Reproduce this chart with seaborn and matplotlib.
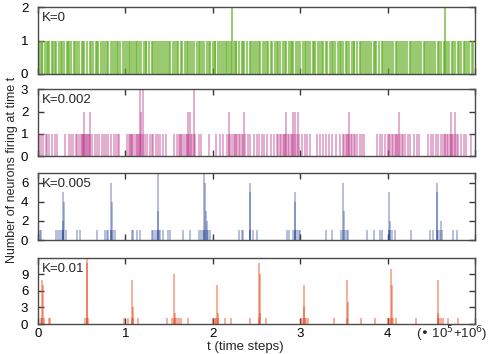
import matplotlib
matplotlib.use("Agg")
import matplotlib.pyplot as plt
import seaborn as sns

# ============================
# DATA (t in units of 1e5 steps, offset 1e6)
# every listed spike has count 1, peaks listed separately
# ============================
green_t = [0.02, 0.04, 0.05, 0.08, 0.10, 0.11, 0.13, 0.16, 0.17, 0.19, 0.21, 0.24, 0.26, 0.27,
           0.30, 0.33, 0.34, 0.36, 0.38, 0.41, 0.42, 0.45, 0.47, 0.50, 0.52, 0.53, 0.56, 0.60,
           0.61, 0.63, 0.66, 0.68, 0.69, 0.72, 0.74, 0.77, 0.79, 0.80, 0.83, 0.86, 0.88, 0.90,
           0.91, 0.94, 0.97, 0.99, 1.02, 1.04, 1.05, 1.07, 1.10, 1.12, 1.13, 1.16, 1.18, 1.21,
           1.23, 1.24, 1.27, 1.30, 1.31, 1.34, 1.36, 1.38, 1.41, 1.43, 1.45, 1.48, 1.50, 1.51,
           1.54, 1.57, 1.59, 1.60, 1.63, 1.65, 1.68, 1.70, 1.71, 1.74, 1.76, 1.79, 1.82, 1.84,
           1.85, 1.88, 1.90, 1.93, 1.96, 1.97, 2.00, 2.02, 2.03, 2.06, 2.08, 2.11, 2.13, 2.15,
           2.16, 2.19, 2.21, 2.24, 2.26, 2.27, 2.30, 2.33, 2.35, 2.36, 2.39, 2.42, 2.44, 2.46,
           2.48, 2.51, 2.53, 2.54, 2.57, 2.60, 2.62, 2.63, 2.66, 2.68, 2.71, 2.73, 2.74, 2.77,
           2.80, 2.82, 2.84, 2.87, 2.89, 2.91, 2.92, 2.95, 2.97, 3.00, 3.03, 3.05, 3.06, 3.09,
           3.11, 3.14, 3.16, 3.17, 3.20, 3.23, 3.25, 3.26, 3.29, 3.31, 3.34, 3.36, 3.38, 3.40,
           3.43, 3.45, 3.47, 3.49, 3.52, 3.54, 3.56, 3.59, 3.61, 3.62, 3.65, 3.68, 3.70, 3.72,
           3.74, 3.76, 3.79, 3.81, 3.84, 3.86, 3.87, 3.90, 3.93, 3.95, 3.97, 3.99, 4.02, 4.04,
           4.06, 4.09, 4.11, 4.13, 4.15, 4.18, 4.20, 4.22, 4.25, 4.27, 4.29, 4.31, 4.34, 4.36,
           4.38, 4.41, 4.43, 4.45, 4.47, 4.50, 4.52, 4.54, 4.57, 4.59, 4.61, 4.64, 4.66, 4.68,
           4.70, 4.73, 4.75, 4.77, 4.80, 4.82, 4.84, 4.87, 4.89, 4.91, 4.93, 4.96, 4.98]
green_peak_t = [2.22, 4.65]
green_peak_n = [2, 2]

pink_t = [0.01, 0.03, 0.06, 0.09, 0.10, 0.13, 0.16, 0.19, 0.22, 0.31, 0.35, 0.38, 0.40, 0.43,
          0.45, 0.47, 0.49, 0.50, 0.51, 0.52, 0.53, 0.54, 0.55, 0.56, 0.57, 0.58, 0.60, 0.62,
          0.65, 0.68, 0.70, 0.73, 0.75, 0.78, 0.80, 0.84, 0.87, 0.89, 0.91, 0.93, 1.02,
          1.04, 1.05, 1.06, 1.07, 1.08, 1.10, 1.12, 1.13, 1.14, 1.15, 1.17, 1.18, 1.20, 1.22,
          1.25, 1.28, 1.30, 1.32, 1.35, 1.37, 1.40, 1.43, 1.46, 1.56,
          1.59, 1.61, 1.62, 1.64, 1.65, 1.67, 1.69, 1.70, 1.71, 1.73, 1.75, 1.76, 1.78, 1.80,
          1.84, 1.87, 1.96, 2.04, 2.08, 2.12, 2.16,
          2.19, 2.20, 2.22, 2.24, 2.25, 2.27, 2.28, 2.30, 2.31, 2.33, 2.35, 2.37, 2.40, 2.43,
          2.47, 2.50, 2.53, 2.56, 2.58, 2.62, 2.66, 2.70,
          2.73, 2.75, 2.77, 2.78, 2.80, 2.81, 2.83, 2.84, 2.86, 2.87, 2.89, 2.90, 2.92, 2.94,
          2.96, 2.98, 3.02, 3.05, 3.08, 3.11, 3.19, 3.22, 3.26, 3.30, 3.33, 3.36, 3.41, 3.45,
          3.49, 3.50, 3.52, 3.53, 3.55, 3.56, 3.58, 3.59, 3.61, 3.63, 3.65, 3.68,
          3.71, 3.73, 3.88, 3.91, 3.94, 3.97,
          4.00, 4.02, 4.03, 4.05, 4.06, 4.08, 4.09, 4.11, 4.12, 4.14, 4.16, 4.18, 4.20, 4.23,
          4.26, 4.30, 4.33, 4.36, 4.46, 4.49, 4.52, 4.55, 4.58, 4.61,
          4.63, 4.65, 4.66, 4.68, 4.69, 4.71, 4.72, 4.74, 4.75, 4.77, 4.79, 4.81, 4.84, 4.87,
          4.90, 4.95]
pink_peak_t = [0.53, 0.60, 1.17, 1.18, 1.20, 1.72, 1.74, 1.78, 2.19, 2.36, 2.84, 2.92, 2.94,
               2.97, 3.56, 4.13, 4.72, 4.77]
pink_peak_n = [2, 2, 3, 2, 3, 2, 2, 3, 2, 2, 2, 2, 2, 2, 2, 2, 2, 2]

blue_t = [0.02, 0.035, 0.20, 0.225, 0.255, 0.27, 0.29, 0.29, 0.32, 0.445, 0.48, 0.67, 0.77,
          0.79, 0.806, 0.83, 0.84, 0.856, 0.88, 1.07, 1.09, 1.13, 1.17, 1.30, 1.32, 1.34, 1.36,
          1.37, 1.38, 1.40, 1.43, 1.49, 1.51, 1.66, 1.74, 1.84, 1.87, 1.89, 1.90, 1.91, 1.93,
          1.95, 1.97, 2.30, 2.33, 2.35, 2.42, 2.42, 2.46, 2.505, 2.85, 2.87, 2.92, 2.94, 2.94,
          2.96, 2.98, 3.00, 3.30, 3.36, 3.47, 3.49, 3.51, 3.53, 3.55, 3.76, 3.84, 3.91, 3.93,
          4.01, 4.02, 4.03, 4.05, 4.08, 4.27, 4.48, 4.52, 4.56, 4.58, 4.60, 4.62, 4.75, 4.79]
blue_peak_t = [0.29, 0.295, 0.29, 0.84, 0.845, 1.37, 1.375, 1.90, 1.91, 1.92, 1.93, 2.42,
               2.425, 2.94, 2.945, 3.49, 3.495, 4.02, 4.025, 4.56, 4.565, 4.61]
blue_peak_n = [5, 4, 2, 6, 4, 7.2, 3, 7.2, 6, 3, 2, 6, 5, 5, 4, 6, 3, 5, 2, 6, 5, 2]

red_t = [0.035, 0.05, 0.07, 0.12, 0.14, 0.54, 0.555, 0.57, 0.98, 1.03, 1.07, 1.09, 1.14,
         1.48, 1.53, 1.55, 1.57, 1.59, 1.61, 1.63, 1.72, 2.00, 2.02, 2.04, 2.06, 2.14, 2.21,
         2.42, 2.53, 2.61, 3.01, 3.03, 3.05, 3.07, 3.09, 3.39, 3.54, 3.70, 3.85, 4.00, 4.02,
         4.04, 4.06, 4.10, 4.32, 4.57, 4.59, 4.61, 4.63, 4.69, 4.80]
red_peak_t = [0.05, 0.055, 0.56, 0.565, 1.08, 1.085, 1.56, 1.565, 2.05, 2.06, 2.53, 2.535,
              2.54, 3.04, 3.045, 3.54, 3.545, 4.04, 4.045, 4.57, 4.575]
red_peak_n = [8, 7, 12, 11, 8, 3, 9, 2, 7, 2, 11, 9, 2, 7, 3, 8, 4, 10, 7, 8, 2]

labels = ["K=0", "K=0.002", "K=0.005", "K=0.01"]
colors = ["#66b028", "#c0408f", "#2c4a9c", "#e8451a"]
ymax = [2, 3, 7, 11.9]
yticks = [[0, 1, 2], [0, 1, 2, 3], [0, 2, 4, 6], [0, 3, 6, 9]]
xticks = [0, 1, 2, 3, 4, 5]
xticklabels = ["0", "1", "2", "3", "4", ""]

# ============================
# STYLE
# ============================
sns.set_theme(style="ticks", rc={
    "axes.edgecolor": "#4a4a4a",
    "axes.linewidth": 1.0,
    "xtick.direction": "in",
    "ytick.direction": "in",
    "xtick.color": "#3a3a3a",
    "ytick.color": "#3a3a3a",
    "xtick.labelcolor": "black",
    "ytick.labelcolor": "black",
})
plt.rcParams["font.family"] = ["Liberation Sans", "DejaVu Sans"]

fig = plt.figure(figsize=(4.9, 3.54), dpi=100)
rects = [
    [0.0776, 0.791, 0.892, 0.189],
    [0.0776, 0.559, 0.892, 0.189],
    [0.0776, 0.322, 0.892, 0.189],
    [0.0776, 0.0847, 0.892, 0.186],
]
series = [
    (green_t, green_peak_t, green_peak_n, 0.65, 1.5),
    (pink_t, pink_peak_t, pink_peak_n, 0.5, 1.2),
    (blue_t, blue_peak_t, blue_peak_n, 0.45, 1.1),
    (red_t, red_peak_t, red_peak_n, 0.55, 1.1),
]

for i, (rect, (ts, pt, pn, a, lw)) in enumerate(zip(rects, series)):
    ax = fig.add_axes(rect)
    ax.vlines(ts, 0, 1, colors=colors[i], alpha=a, linewidth=lw)
    ax.vlines(pt, 0, pn, colors=colors[i], alpha=a, linewidth=lw)
    ax.set_xlim(0, 5)
    ax.set_ylim(0, ymax[i])
    ax.set_yticks(yticks[i])
    ax.set_xticks(xticks)
    ax.tick_params(axis="both", which="major", top=True, right=True, length=4, width=1,
                   labelsize=9.5)
    ax.tick_params(axis="y", pad=7)
    ax.tick_params(axis="x", pad=3)
    if i < 3:
        ax.tick_params(axis="x", labelbottom=False)
    else:
        ax.set_xticklabels(xticklabels)
    ax.text(0.008, 0.93, labels[i], transform=ax.transAxes, ha="left", va="top", fontsize=9.5)

fig.text(0.025, 0.52, "Number of neurons firing at time t", rotation=90, ha="center",
         va="center", fontsize=9)
fig.text(0.5, 0.02, "t (time steps)", ha="center", va="center", fontsize=9.5)
fig.text(0.995, 0.055, r"(• 10$^5$+10$^6$)", ha="right", va="center", fontsize=9.5)

fig.savefig("out.png", dpi=100)
